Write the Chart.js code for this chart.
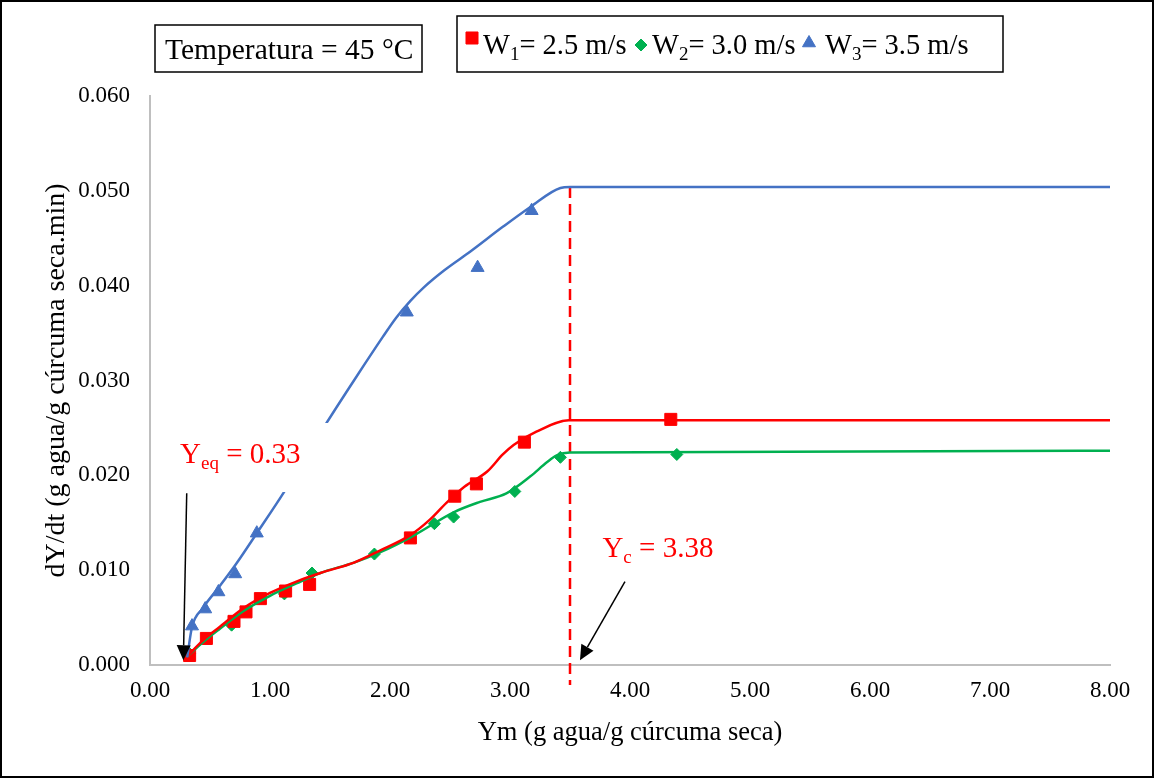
<!DOCTYPE html>
<html>
<head>
<meta charset="utf-8">
<script src="https://cdn.jsdelivr.net/npm/chart.js@4.4.1/dist/chart.umd.min.js"></script>
<style>
    html, body { margin: 0; padding: 0; background: #fff; }
    #wrap { position: relative; width: 1154px; height: 778px; }
</style>
</head>
<body>
<div id="wrap"><canvas id="chart" width="1154" height="778"></canvas></div>
<script>
// --- datos ---
// W1 = 2.5 m/s (puntos experimentales)
const w1X = [0.33, 0.47, 0.70, 0.80, 0.92, 1.13, 1.33, 2.17, 2.54, 2.72, 3.12, 4.34];
const w1Y = [0.0010, 0.0028, 0.0046, 0.0056, 0.0070, 0.0078, 0.0085, 0.0134, 0.0178, 0.0191, 0.0235, 0.0259];
// W2 = 3.0 m/s
const w2X = [0.33, 0.68, 1.12, 1.35, 1.87, 2.37, 2.53, 3.04, 3.42, 4.39];
const w2Y = [0.0012, 0.0042, 0.0075, 0.0097, 0.0117, 0.0149, 0.0156, 0.0183, 0.0219, 0.0222];
// W3 = 3.5 m/s
const w3X = [0.35, 0.46, 0.57, 0.71, 0.89, 2.14, 2.73, 3.18];
const w3Y = [0.0041, 0.0059, 0.0077, 0.0096, 0.0139, 0.0372, 0.0419, 0.0479];

// curvas ajustadas
const fit1X = [0.30, 0.45, 0.58, 0.78, 1.00, 1.22, 1.42, 1.70, 1.92, 2.17, 2.33, 2.47, 2.62, 2.81, 2.94, 3.03, 3.22, 3.49, 8.00];
const fit1Y = [0.0008, 0.0027, 0.0040, 0.0060, 0.0076, 0.0088, 0.0097, 0.0108, 0.0121, 0.0137, 0.0153, 0.0171, 0.0188, 0.0204, 0.0222, 0.0232, 0.0246, 0.0258, 0.0258];
const fit2X = [0.30, 0.45, 0.58, 0.78, 1.00, 1.22, 1.42, 1.70, 1.92, 2.19, 2.53, 2.75, 2.97, 3.17, 3.31, 3.39, 3.50, 8.00];
const fit2Y = [0.0008, 0.0025, 0.0038, 0.0057, 0.0073, 0.0086, 0.0097, 0.0108, 0.0119, 0.0136, 0.0161, 0.0172, 0.0181, 0.0199, 0.0214, 0.0221, 0.0224, 0.0226];
const fit3X = [0.31, 0.35, 0.44, 0.58, 0.72, 0.89, 1.11, 1.47, 1.72, 1.94, 2.05, 2.17, 2.28, 2.45, 2.67, 2.94, 3.17, 3.42, 3.50, 8.00];
const fit3Y = [0.0008, 0.0040, 0.0060, 0.0083, 0.0107, 0.0139, 0.0181, 0.0255, 0.0304, 0.0346, 0.0366, 0.0384, 0.0398, 0.0416, 0.0436, 0.0462, 0.0483, 0.0503, 0.0504, 0.0504];

// linea critica Yc
const ycLineX = [3.50, 3.50];
const ycLineY = [0.0504, -0.0021];

const xTicks = [0, 1, 2, 3, 4, 5, 6, 7, 8];
const yTicks = [0, 0.01, 0.02, 0.03, 0.04, 0.05, 0.06];

const RED = '#ff0000';
const GREEN = '#00b050';
const BLUE = '#4472c4';
const SERIF = '"Liberation Serif", "Times New Roman", serif';

function pts(xs, ys)
{
    return xs.map((x, i) => ({ x: x, y: ys[i] }));
}

function fitLine(xs, ys, color)
{
    return {
        data: pts(xs, ys),
        showLine: true,
        borderColor: color,
        borderWidth: 2.5,
        pointRadius: 0,
        cubicInterpolationMode: 'monotone',
        fill: false
    };
}

function markers(xs, ys, color, style, radius)
{
    return {
        data: pts(xs, ys),
        showLine: false,
        pointStyle: style,
        pointRadius: radius,
        pointBackgroundColor: color,
        pointBorderColor: color,
        pointBorderWidth: 1
    };
}

// texto con subindice: partes [texto, esSub]
function drawRich(ctx, parts, x, y, size)
{
    let cx = x;
    parts.forEach(p =>
    {
        const sub = p[1];
        ctx.font = (sub ? Math.round(size * 0.65) : size) + 'px ' + SERIF;
        ctx.fillText(p[0], cx, sub ? y + size * 0.2 : y);
        cx += ctx.measureText(p[0]).width;
    });
}

function arrow(ctx, x0, y0, x1, y1)
{
    const ang = Math.atan2(y1 - y0, x1 - x0);
    const len = 15, half = 7;
    const bx = x1 - len * Math.cos(ang), by = y1 - len * Math.sin(ang);
    ctx.strokeStyle = '#000';
    ctx.fillStyle = '#000';
    ctx.lineWidth = 1.5;
    ctx.beginPath();
    ctx.moveTo(x0, y0);
    ctx.lineTo(bx, by);
    ctx.stroke();
    ctx.beginPath();
    ctx.moveTo(x1, y1);
    ctx.lineTo(bx + half * Math.sin(ang), by - half * Math.cos(ang));
    ctx.lineTo(bx - half * Math.sin(ang), by + half * Math.cos(ang));
    ctx.closePath();
    ctx.fill();
}

const annotations = {
    id: 'annotations',
    afterDatasetsDraw(chart)
    {
        const { ctx, scales: { x, y } } = chart;
        ctx.save();
        // caja blanca del texto Yeq (tapa la curva azul)
        const l = x.getPixelForValue(0.18), r = x.getPixelForValue(1.52);
        const t = y.getPixelForValue(0.02552), b = y.getPixelForValue(0.01824);
        ctx.fillStyle = '#fff';
        ctx.fillRect(l, t, r - l, b - t);

        ctx.fillStyle = RED;
        ctx.textBaseline = 'alphabetic';
        drawRich(ctx, [['Y', false], ['eq', true], [' = 0.33', false]],
            x.getPixelForValue(0.25), y.getPixelForValue(0.0213), 29);
        ctx.fillStyle = RED;
        drawRich(ctx, [['Y', false], ['c', true], [' = 3.38', false]],
            x.getPixelForValue(3.77), y.getPixelForValue(0.0114), 29);

        arrow(ctx, x.getPixelForValue(0.306), y.getPixelForValue(0.0181),
            x.getPixelForValue(0.278), y.getPixelForValue(0.0005));
        arrow(ctx, x.getPixelForValue(3.958), y.getPixelForValue(0.0088),
            x.getPixelForValue(3.583), y.getPixelForValue(0.0005));
        ctx.restore();
    },
    afterDraw(chart)
    {
        const ctx = chart.ctx;
        ctx.save();
        ctx.strokeStyle = '#000';
        ctx.lineWidth = 2;
        ctx.strokeRect(1, 1, 1152, 776);

        // caja de temperatura
        ctx.lineWidth = 1.5;
        ctx.fillStyle = '#fff';
        ctx.fillRect(155, 25, 267, 47);
        ctx.strokeRect(155, 25, 267, 47);
        ctx.fillStyle = '#000';
        ctx.font = '29.5px ' + SERIF;
        ctx.textBaseline = 'alphabetic';
        ctx.fillText('Temperatura = 45 °C', 165, 59);

        // leyenda
        ctx.fillStyle = '#fff';
        ctx.fillRect(457, 16, 546, 56);
        ctx.strokeRect(457, 16, 546, 56);
        const items = [
            { color: RED, style: 'rect', r: 8.5, mx: 472, my: 38, tx: 483, n: '1', v: '= 2.5 m/s' },
            { color: GREEN, style: 'rectRot', r: 6, mx: 641, my: 45, tx: 652, n: '2', v: '= 3.0 m/s' },
            { color: BLUE, style: 'triangle', r: 7.5, mx: 809, my: 43, tx: 825, n: '3', v: '= 3.5 m/s' }
        ];
        items.forEach(it =>
        {
            ctx.fillStyle = it.color;
            ctx.strokeStyle = it.color;
            ctx.lineWidth = 1;
            Chart.helpers.drawPoint(ctx, { pointStyle: it.style, radius: it.r, borderWidth: 1, rotation: 0 }, it.mx, it.my);
            ctx.fillStyle = '#000';
            drawRich(ctx, [['W', false], [it.n, true], [it.v, false]], it.tx, 54, 28.5);
        });
        ctx.restore();
    }
};

new Chart(document.getElementById('chart'), {
    type: 'scatter',
    data: {
        datasets: [
            fitLine(fit3X, fit3Y, BLUE),
            fitLine(fit1X, fit1Y, RED),
            fitLine(fit2X, fit2Y, GREEN),
            Object.assign(fitLine(ycLineX, ycLineY, RED), { borderDash: [11, 6], cubicInterpolationMode: 'default', clip: false }),
            markers(w1X, w1Y, RED, 'rect', 8.5),
            markers(w2X, w2Y, GREEN, 'rectRot', 6),
            markers(w3X, w3Y, BLUE, 'triangle', 7.5)
        ]
    },
    options: {
        responsive: false,
        animation: false,
        events: [],
        layout: { padding: { top: 96, right: 44, bottom: 0, left: 0 } },
        plugins: {
            legend: { display: false },
            tooltip: { enabled: false }
        },
        scales: {
            x: {
                type: 'linear',
                min: 0,
                max: 8,
                afterFit: s => { s.height = 113; },
                afterBuildTicks: s => { s.ticks = xTicks.map(v => ({ value: v })); },
                grid: { display: false, drawTicks: false },
                border: { display: true, color: '#bfbfbf', width: 2 },
                ticks: {
                    padding: 12,
                    color: '#000',
                    font: { family: SERIF, size: 23 },
                    callback: v => v.toFixed(2)
                },
                title: {
                    display: true,
                    text: 'Ym (g agua/g cúrcuma seca)',
                    color: '#000',
                    font: { family: SERIF, size: 26.5 },
                    padding: { bottom: 29 }
                }
            },
            y: {
                type: 'linear',
                min: 0,
                max: 0.06,
                afterFit: s => { s.width = 150; },
                afterBuildTicks: s => { s.ticks = yTicks.map(v => ({ value: v })); },
                grid: { display: false, drawTicks: false },
                border: { display: true, color: '#bfbfbf', width: 2 },
                ticks: {
                    padding: 20,
                    color: '#000',
                    font: { family: SERIF, size: 23 },
                    callback: v => v.toFixed(3)
                },
                title: {
                    display: true,
                    text: 'dY/dt (g agua/g cúrcuma seca.min)',
                    color: '#000',
                    font: { family: SERIF, size: 28 },
                    padding: { top: 40 }
                }
            }
        }
    },
    plugins: [annotations]
});
</script>
</body>
</html>
